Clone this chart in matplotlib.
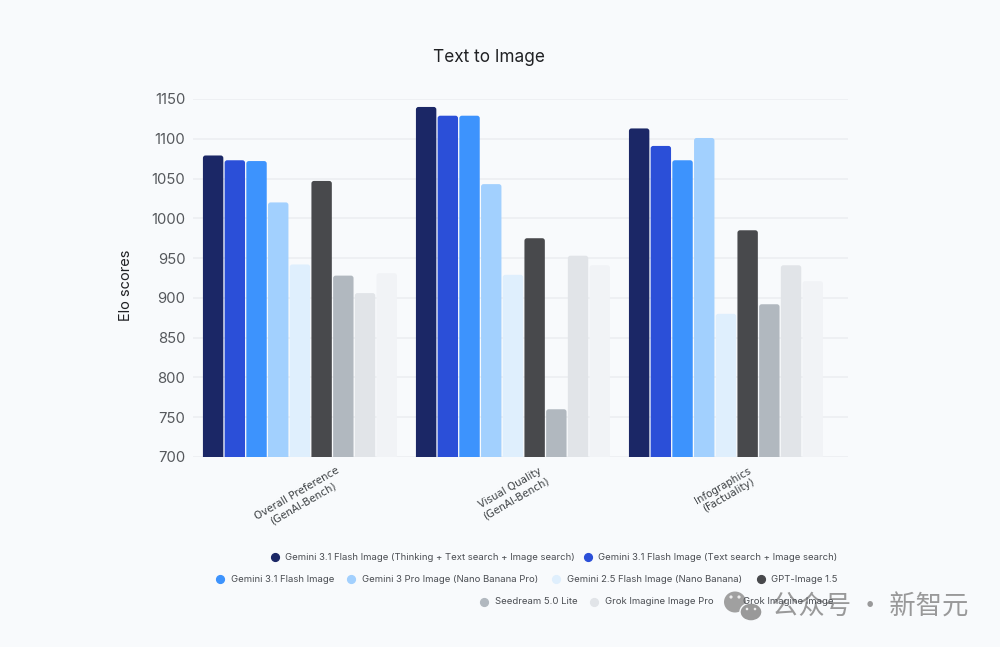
import matplotlib
matplotlib.use("Agg")
import matplotlib.pyplot as plt
import numpy as np
from matplotlib.lines import Line2D
from matplotlib.patches import Ellipse, FancyBboxPatch

W, H = 1000, 647
BG = "#f8fafc"

categories = ["Overall Preference\n(GenAI-Bench)", "Visual Quality\n(GenAI-Bench)", "Infographics\n(Factuality)"]
models = [
    "Gemini 3.1 Flash Image (Thinking + Text search + Image search)",
    "Gemini 3.1 Flash Image (Text search + Image search)",
    "Gemini 3.1 Flash Image",
    "Gemini 3 Pro Image (Nano Banana Pro)",
    "Gemini 2.5 Flash Image (Nano Banana)",
    "GPT-Image 1.5",
    "Seedream 5.0 Lite",
    "Grok Imagine Image Pro",
    "Grok Imagine Image",
]
colors = ["#1b2766", "#2b4fd8", "#3d93fd", "#a2d0fe", "#dfeffd", "#48494c", "#b1b8bf", "#e1e4e8", "#f1f3f6"]
scores = [
    [1079, 1073, 1072, 1020, 942, 1047, 928, 906, 931],
    [1140, 1129, 1129, 1043, 929, 975, 760, 953, 941],
    [1113, 1091, 1073, 1101, 880, 985, 892, 941, 921],
]
yticks = [700, 750, 800, 850, 900, 950, 1000, 1050, 1100, 1150]

# legend rows: model index, marker x, text x, y (pixels)
legend_rows = [
    (0, 275, 285, 557), (1, 588, 598, 557),
    (2, 220, 231, 579), (3, 351, 362, 579), (4, 556, 567, 579), (5, 761, 771, 579),
    (6, 484, 495, 602), (7, 594, 605, 602), (8, 733, 743, 602),
]

plt.rcParams["font.family"] = ["Inter", "DejaVu Sans"]
fig = plt.figure(figsize=(W / 100, H / 100), dpi=100, facecolor=BG)
ax = fig.add_axes([193 / W, 1 - 457 / H, (848 - 193) / W, (457 - 99) / H], facecolor=BG)

ax.set_xlim(-0.502, 2.573)
ax.set_ylim(700, 1150)
step = 21.7 / 213
width = 20.4 / 213
# y units per pixel over x units per pixel, so the corners come out round
aspect = (450 / 358) / (3.075 / 655)

for g, vals in enumerate(scores):
    for m, v in enumerate(vals):
        x = g + (m - 4) * step - width / 2
        ax.add_patch(FancyBboxPatch(
            (x, 680), width, v - 680,
            boxstyle="round,pad=0,rounding_size=0.012",
            mutation_aspect=aspect,
            facecolor=colors[m], edgecolor="none", zorder=3,
        ))

ax.set_yticks(yticks)
ax.yaxis.grid(True, color="#eceef1", linewidth=1.1, zorder=0)
ax.set_axisbelow(True)
ax.tick_params(axis="y", length=0, pad=5.5, labelsize=10.7, labelcolor="#55585c")
ax.tick_params(axis="x", length=0, pad=6)
ax.set_xticks(range(3))
ax.set_xticklabels(categories, rotation=30, ha="center", va="top", fontsize=7.4,
                   color="#3c4043", family="DejaVu Sans", linespacing=1.2)
for s in ax.spines.values():
    s.set_visible(False)

ax.set_ylabel("Elo scores", fontsize=10.5, color="#202124")
ax.yaxis.set_label_coords((133 - 193) / 655, (457 - 285) / 358)
fig.text(489 / W, 1 - 58 / H, "Text to Image", ha="center", va="center", fontsize=12.4, color="#202124")

for m, mx, tx, y in legend_rows:
    fig.add_artist(Line2D([mx / W], [1 - y / H], marker="o", markersize=5.6, linestyle="none",
                          color=colors[m], transform=fig.transFigure))
    fig.text(tx / W, 1 - y / H, models[m], ha="left", va="center", fontsize=6.85, color="#4a4d52")

# watermark, above the markers but under the legend text
overlay = fig.add_axes([0, 0, 1, 1], facecolor="none", zorder=2.5)
overlay.set_xlim(0, W)
overlay.set_ylim(H, 0)
overlay.axis("off")
overlay.add_patch(Ellipse((735, 602), 22, 21, color="#a0a0a0", lw=0))
overlay.add_patch(Ellipse((751, 612), 22, 18, color="#999999", ec=BG, lw=1))
for ex, ey, er in [(731, 597, 1.6), (739, 597, 1.6), (747, 609, 1.3), (755, 609, 1.3)]:
    overlay.add_patch(Ellipse((ex, ey), 2 * er, 2 * er, color="#ececec", lw=0))
overlay.text(772, 607, "公众号 · 新智元", ha="left", va="center", fontsize=19, color="#8f8f8f",
             alpha=0.9, family=["Noto Sans CJK SC", "DejaVu Sans"])

fig.savefig("out.png", dpi=100, facecolor=BG)
